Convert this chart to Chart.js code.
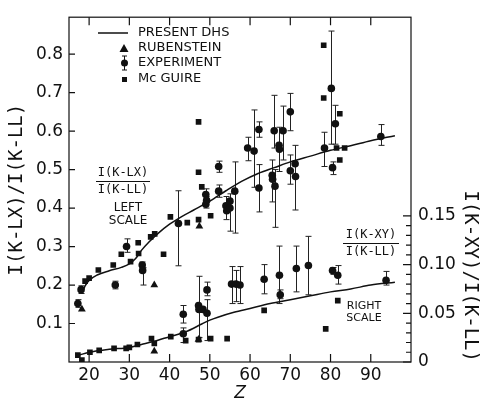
<!DOCTYPE html>
<html>
<head>
<meta charset="utf-8">
<script src="https://cdn.jsdelivr.net/npm/chart.js@4.4.1/dist/chart.umd.min.js"></script>
<style>
  html, body { margin: 0; padding: 0; background: #fff; }
  canvas { display: block; }
</style>
</head>
<body>
<canvas id="c" width="482" height="404"></canvas>
<script>
// Tick labels
const zTicks = [20, 30, 40, 50, 60, 70, 80, 90];
const leftTicks = [0.1, 0.2, 0.3, 0.4, 0.5, 0.6, 0.7, 0.8];
const rightTicks = [0, 0.05, 0.10, 0.15];

// Upper curve: I(K-LX)/I(K-LL), left scale
const dhsUpZ = [18.2, 19, 20, 22, 25, 28, 30, 31.5, 33, 35, 37, 40, 43, 46, 50, 54, 58, 62, 66, 70, 75, 80, 85, 90, 96];
const dhsUpR = [0.178, 0.198, 0.212, 0.226, 0.237, 0.246, 0.255, 0.268, 0.29, 0.313, 0.333, 0.358, 0.378, 0.395, 0.418, 0.445, 0.47, 0.49, 0.505, 0.52, 0.535, 0.55, 0.562, 0.575, 0.588];

const rubUpZ = [18.2, 36.2, 47.4];
const rubUpR = [0.137, 0.20, 0.353];

const expUpZ  = [17.2, 18.0, 26.5, 29.3, 33.2, 33.3, 42.2, 49.0, 49.2, 49.0, 52.2, 52.2, 54.0, 54.2, 55.0, 55.0, 56.2, 59.4, 61.0, 62.2, 62.2, 65.5, 65.6, 66.0, 66.2, 67.2, 67.3, 68.2, 70.0, 70.0, 71.2, 71.3, 78.5, 80.2, 80.5, 81.2, 92.5];
const expUpR  = [0.152, 0.188, 0.20, 0.30, 0.252, 0.238, 0.36, 0.435, 0.42, 0.41, 0.508, 0.444, 0.406, 0.393, 0.418, 0.40, 0.444, 0.556, 0.548, 0.604, 0.452, 0.485, 0.475, 0.601, 0.457, 0.563, 0.553, 0.601, 0.65, 0.497, 0.515, 0.482, 0.556, 0.711, 0.505, 0.619, 0.586];
const expUpLo = [0.142, 0.178, 0.19, 0.285, 0.245, 0.20, 0.25, 0.43, null, 0.40, 0.493, 0.428, 0.37, null, 0.34, null, 0.335, 0.523, 0.454, 0.584, 0.39, 0.416, null, 0.556, 0.35, null, 0.495, 0.525, 0.601, 0.462, 0.395, null, 0.508, 0.566, 0.487, 0.566, 0.563];
const expUpHi = [0.162, 0.198, 0.21, 0.32, 0.26, 0.245, 0.445, 0.45, null, 0.42, 0.522, 0.46, 0.43, null, 0.437, null, 0.52, 0.584, 0.655, 0.624, 0.513, 0.525, null, 0.693, 0.50, null, 0.61, 0.665, 0.698, 0.538, 0.563, null, 0.597, 0.86, 0.52, 0.667, 0.617];

const mcgUpZ = [19.0, 20.0, 22.3, 26.0, 28.0, 30.3, 32.2, 32.3, 35.3, 36.3, 38.5, 40.2, 44.4, 47.2, 47.2, 47.2, 48.0, 50.2, 78.3, 78.3, 81.5, 82.3, 82.3, 83.5];
const mcgUpR = [0.21, 0.218, 0.239, 0.252, 0.28, 0.261, 0.31, 0.282, 0.325, 0.333, 0.28, 0.377, 0.362, 0.37, 0.624, 0.493, 0.455, 0.38, 0.823, 0.686, 0.556, 0.645, 0.525, 0.556];

// Lower curve: I(K-XY)/I(K-LL), right scale
const dhsLoZ = [17.5, 20, 25, 30, 33, 36, 40, 44, 48, 50, 52, 56, 60, 65, 70, 75, 80, 85, 90, 96];
const dhsLoR = [0.007, 0.010, 0.013, 0.015, 0.018, 0.021, 0.026, 0.031, 0.039, 0.043, 0.046, 0.051, 0.055, 0.060, 0.064, 0.068, 0.072, 0.075, 0.079, 0.082];

const rubLoZ = [36.2, 47.2];
const rubLoR = [0.011, 0.023];

const expLoZ  = [43.4, 43.4, 47.2, 47.3, 48.3, 49.3, 49.3, 55.4, 56.5, 57.5, 63.5, 67.3, 67.5, 71.5, 74.5, 80.5, 81.8, 93.8];
const expLoR  = [0.049, 0.029, 0.058, 0.054, 0.054, 0.074, 0.050, 0.080, 0.080, 0.079, 0.085, 0.089, 0.069, 0.096, 0.099, 0.094, 0.089, 0.084];
const expLoLo = [0.040, 0.020, 0.025, null, null, 0.068, 0.022, 0.060, 0.062, 0.060, 0.070, 0.060, 0.065, 0.072, 0.069, 0.090, 0.080, 0.079];
const expLoHi = [0.058, 0.035, 0.088, null, null, 0.082, 0.064, 0.098, 0.094, 0.098, 0.100, 0.119, 0.074, 0.119, 0.129, 0.097, 0.099, 0.093];

const mcgLoZ = [17.2, 18.2, 20.2, 22.5, 26.2, 29.2, 30.0, 32.0, 35.5, 36.2, 40.3, 44.0, 47.2, 50.2, 54.3, 63.5, 78.8, 81.8];
const mcgLoR = [0.007, 0.002, 0.010, 0.012, 0.014, 0.014, 0.015, 0.018, 0.024, 0.019, 0.026, 0.022, 0.023, 0.024, 0.024, 0.053, 0.034, 0.063];

const INK = '#111';
const pts = (xs, ys) => xs.map((x, i) => ({ x: x, y: ys[i] }));

const lineSet = (xs, ys, axis) => ({
  data: pts(xs, ys), yAxisID: axis, showLine: true, pointRadius: 0,
  borderColor: INK, borderWidth: 1.5, cubicInterpolationMode: 'monotone'
});
const markSet = (xs, ys, axis, style, r, lo, hi) => ({
  data: pts(xs, ys), yAxisID: axis, pointStyle: style, pointRadius: r,
  backgroundColor: INK, borderColor: INK, borderWidth: 0, showLine: false,
  errLo: lo, errHi: hi
});

// white background
const bgPlugin = {
  id: 'bg',
  beforeDraw(chart) {
    const { ctx } = chart;
    ctx.save();
    ctx.fillStyle = '#fff';
    ctx.fillRect(0, 0, chart.width, chart.height);
    ctx.restore();
  }
};

// error bars with caps
const errPlugin = {
  id: 'errbars',
  beforeDatasetsDraw(chart) {
    const { ctx } = chart;
    ctx.save();
    ctx.strokeStyle = '#222';
    ctx.lineWidth = 1;
    chart.data.datasets.forEach((ds, i) => {
      if (!ds.errLo) return;
      const ys = chart.scales[ds.yAxisID];
      const xs = chart.scales.x;
      ds.data.forEach((p, j) => {
        if (ds.errLo[j] == null) return;
        const px = Math.round(xs.getPixelForValue(p.x)) + 0.5;
        const y1 = ys.getPixelForValue(ds.errLo[j]);
        const y2 = ys.getPixelForValue(ds.errHi[j]);
        ctx.beginPath();
        ctx.moveTo(px, y1); ctx.lineTo(px, y2);
        ctx.moveTo(px - 3, y1); ctx.lineTo(px + 3, y1);
        ctx.moveTo(px - 3, y2); ctx.lineTo(px + 3, y2);
        ctx.stroke();
      });
    });
    ctx.restore();
  }
};

// frame, inward ticks, legend and in-plot labels
const framePlugin = {
  id: 'frame',
  afterDraw(chart) {
    const { ctx, chartArea: a } = chart;
    const { x, y, y2 } = chart.scales;
    ctx.save();
    ctx.strokeStyle = INK;
    ctx.lineWidth = 1.2;
    ctx.strokeRect(a.left, a.top, a.right - a.left, a.bottom - a.top);
    ctx.beginPath();
    zTicks.forEach(v => {
      const px = x.getPixelForValue(v);
      ctx.moveTo(px, a.bottom); ctx.lineTo(px, a.bottom - 8);
      ctx.moveTo(px, a.top); ctx.lineTo(px, a.top + 8);
    });
    leftTicks.forEach(v => {
      const py = y.getPixelForValue(v);
      ctx.moveTo(a.left, py); ctx.lineTo(a.left + 6, py);
    });
    for (let k = 0; k <= 15; k++) {
      const py = y2.getPixelForValue(k / 100);
      const len = k % 5 === 0 ? 8 : 5;
      ctx.moveTo(a.right, py); ctx.lineTo(a.right - len, py);
    }
    ctx.stroke();

    // legend
    ctx.fillStyle = INK;
    ctx.font = '13px "DejaVu Sans"';
    ctx.textBaseline = 'middle';
    ctx.textAlign = 'left';
    ctx.lineWidth = 1.5;
    ctx.beginPath(); ctx.moveTo(98, 33); ctx.lineTo(128, 33); ctx.stroke();
    ctx.fillText('PRESENT DHS', 138, 33);
    ctx.beginPath(); ctx.moveTo(124, 44); ctx.lineTo(128.5, 52); ctx.lineTo(119.5, 52); ctx.closePath(); ctx.fill();
    ctx.fillText('RUBENSTEIN', 138, 48);
    ctx.lineWidth = 1;
    ctx.beginPath();
    ctx.moveTo(124.5, 56); ctx.lineTo(124.5, 70);
    ctx.moveTo(122, 56); ctx.lineTo(127, 56);
    ctx.moveTo(122, 70); ctx.lineTo(127, 70);
    ctx.stroke();
    ctx.beginPath(); ctx.arc(124.5, 63, 3.5, 0, Math.PI * 2); ctx.fill();
    ctx.fillText('EXPERIMENT', 138, 63);
    ctx.fillRect(122, 77, 5, 5);
    ctx.fillText('Mc GUIRE', 138, 79);

    // fraction labels
    const frac = (top, bot, cx, cy, w) => {
      ctx.font = '12px "DejaVu Sans Mono"';
      ctx.textAlign = 'center';
      ctx.fillText(top, cx, cy - 8);
      ctx.fillText(bot, cx, cy + 9);
      ctx.lineWidth = 1;
      ctx.beginPath(); ctx.moveTo(cx - w / 2, cy + 0.5); ctx.lineTo(cx + w / 2, cy + 0.5); ctx.stroke();
    };
    frac('I(K-LX)', 'I(K-LL)', 123, 181, 54);
    frac('I(K-XY)', 'I(K-LL)', 371, 243, 56);

    ctx.textAlign = 'center';
    ctx.font = '12px "DejaVu Sans"';
    ctx.fillText('LEFT', 128, 208);
    ctx.fillText('SCALE', 128, 221);
    ctx.font = '11px "DejaVu Sans"';
    ctx.fillText('RIGHT', 364, 306);
    ctx.fillText('SCALE', 364, 318);
    ctx.restore();
  }
};

const tickFont = { family: 'DejaVu Sans', size: 17 };
const titleFont = { family: 'DejaVu Sans Mono', size: 19 };

new Chart(document.getElementById('c').getContext('2d'), {
  type: 'scatter',
  data: {
    datasets: [
      lineSet(dhsUpZ, dhsUpR, 'y'),
      lineSet(dhsLoZ, dhsLoR, 'y2'),
      markSet(rubUpZ, rubUpR, 'y', 'triangle', 4.5),
      markSet(rubLoZ, rubLoR, 'y2', 'triangle', 4.5),
      markSet(expUpZ, expUpR, 'y', 'circle', 3.8, expUpLo, expUpHi),
      markSet(expLoZ, expLoR, 'y2', 'circle', 3.8, expLoLo, expLoHi),
      markSet(mcgUpZ, mcgUpR, 'y', 'rect', 4),
      markSet(mcgLoZ, mcgLoR, 'y2', 'rect', 4)
    ]
  },
  options: {
    responsive: false,
    animation: false,
    layout: { padding: { top: 8, left: 0, right: 0, bottom: 0 } },
    plugins: { legend: { display: false }, tooltip: { enabled: false } },
    scales: {
      x: {
        type: 'linear', min: 15, max: 100,
        afterFit: s => { s.height = 42; },
        afterBuildTicks: s => { s.ticks = zTicks.map(v => ({ value: v })); },
        grid: { display: false, drawTicks: false },
        border: { display: false },
        ticks: { font: tickFont, color: INK, padding: 3, autoSkip: false, maxRotation: 0 },
        title: { display: true, text: 'Z', color: INK, padding: 0,
                 font: { family: 'DejaVu Sans', size: 17, style: 'italic' } }
      },
      y: {
        position: 'left', min: 0, max: 0.896,
        afterFit: s => { s.width = 69; },
        afterBuildTicks: s => { s.ticks = leftTicks.map(v => ({ value: v })); },
        grid: { display: false, drawTicks: false },
        border: { display: false },
        ticks: { font: tickFont, color: INK, padding: 6, callback: v => v.toFixed(1) },
        title: { display: true, text: 'I(K-LX)/I(K-LL)', color: INK, padding: { top: 6, bottom: 0 }, font: titleFont }
      },
      y2: {
        position: 'right', min: 0, max: 0.354,
        afterFit: s => { s.width = 71; },
        afterBuildTicks: s => { s.ticks = rightTicks.map(v => ({ value: v })); },
        grid: { display: false, drawTicks: false },
        border: { display: false },
        ticks: { font: tickFont, color: INK, padding: 7, callback: v => (v === 0 ? '0' : v.toFixed(2)) },
        title: { display: true, text: 'I(K-XY)/I(K-LL)', color: INK, align: 'start', padding: { top: 1, bottom: 0 }, font: titleFont }
      }
    }
  },
  plugins: [bgPlugin, errPlugin, framePlugin]
});
</script>
</body>
</html>
